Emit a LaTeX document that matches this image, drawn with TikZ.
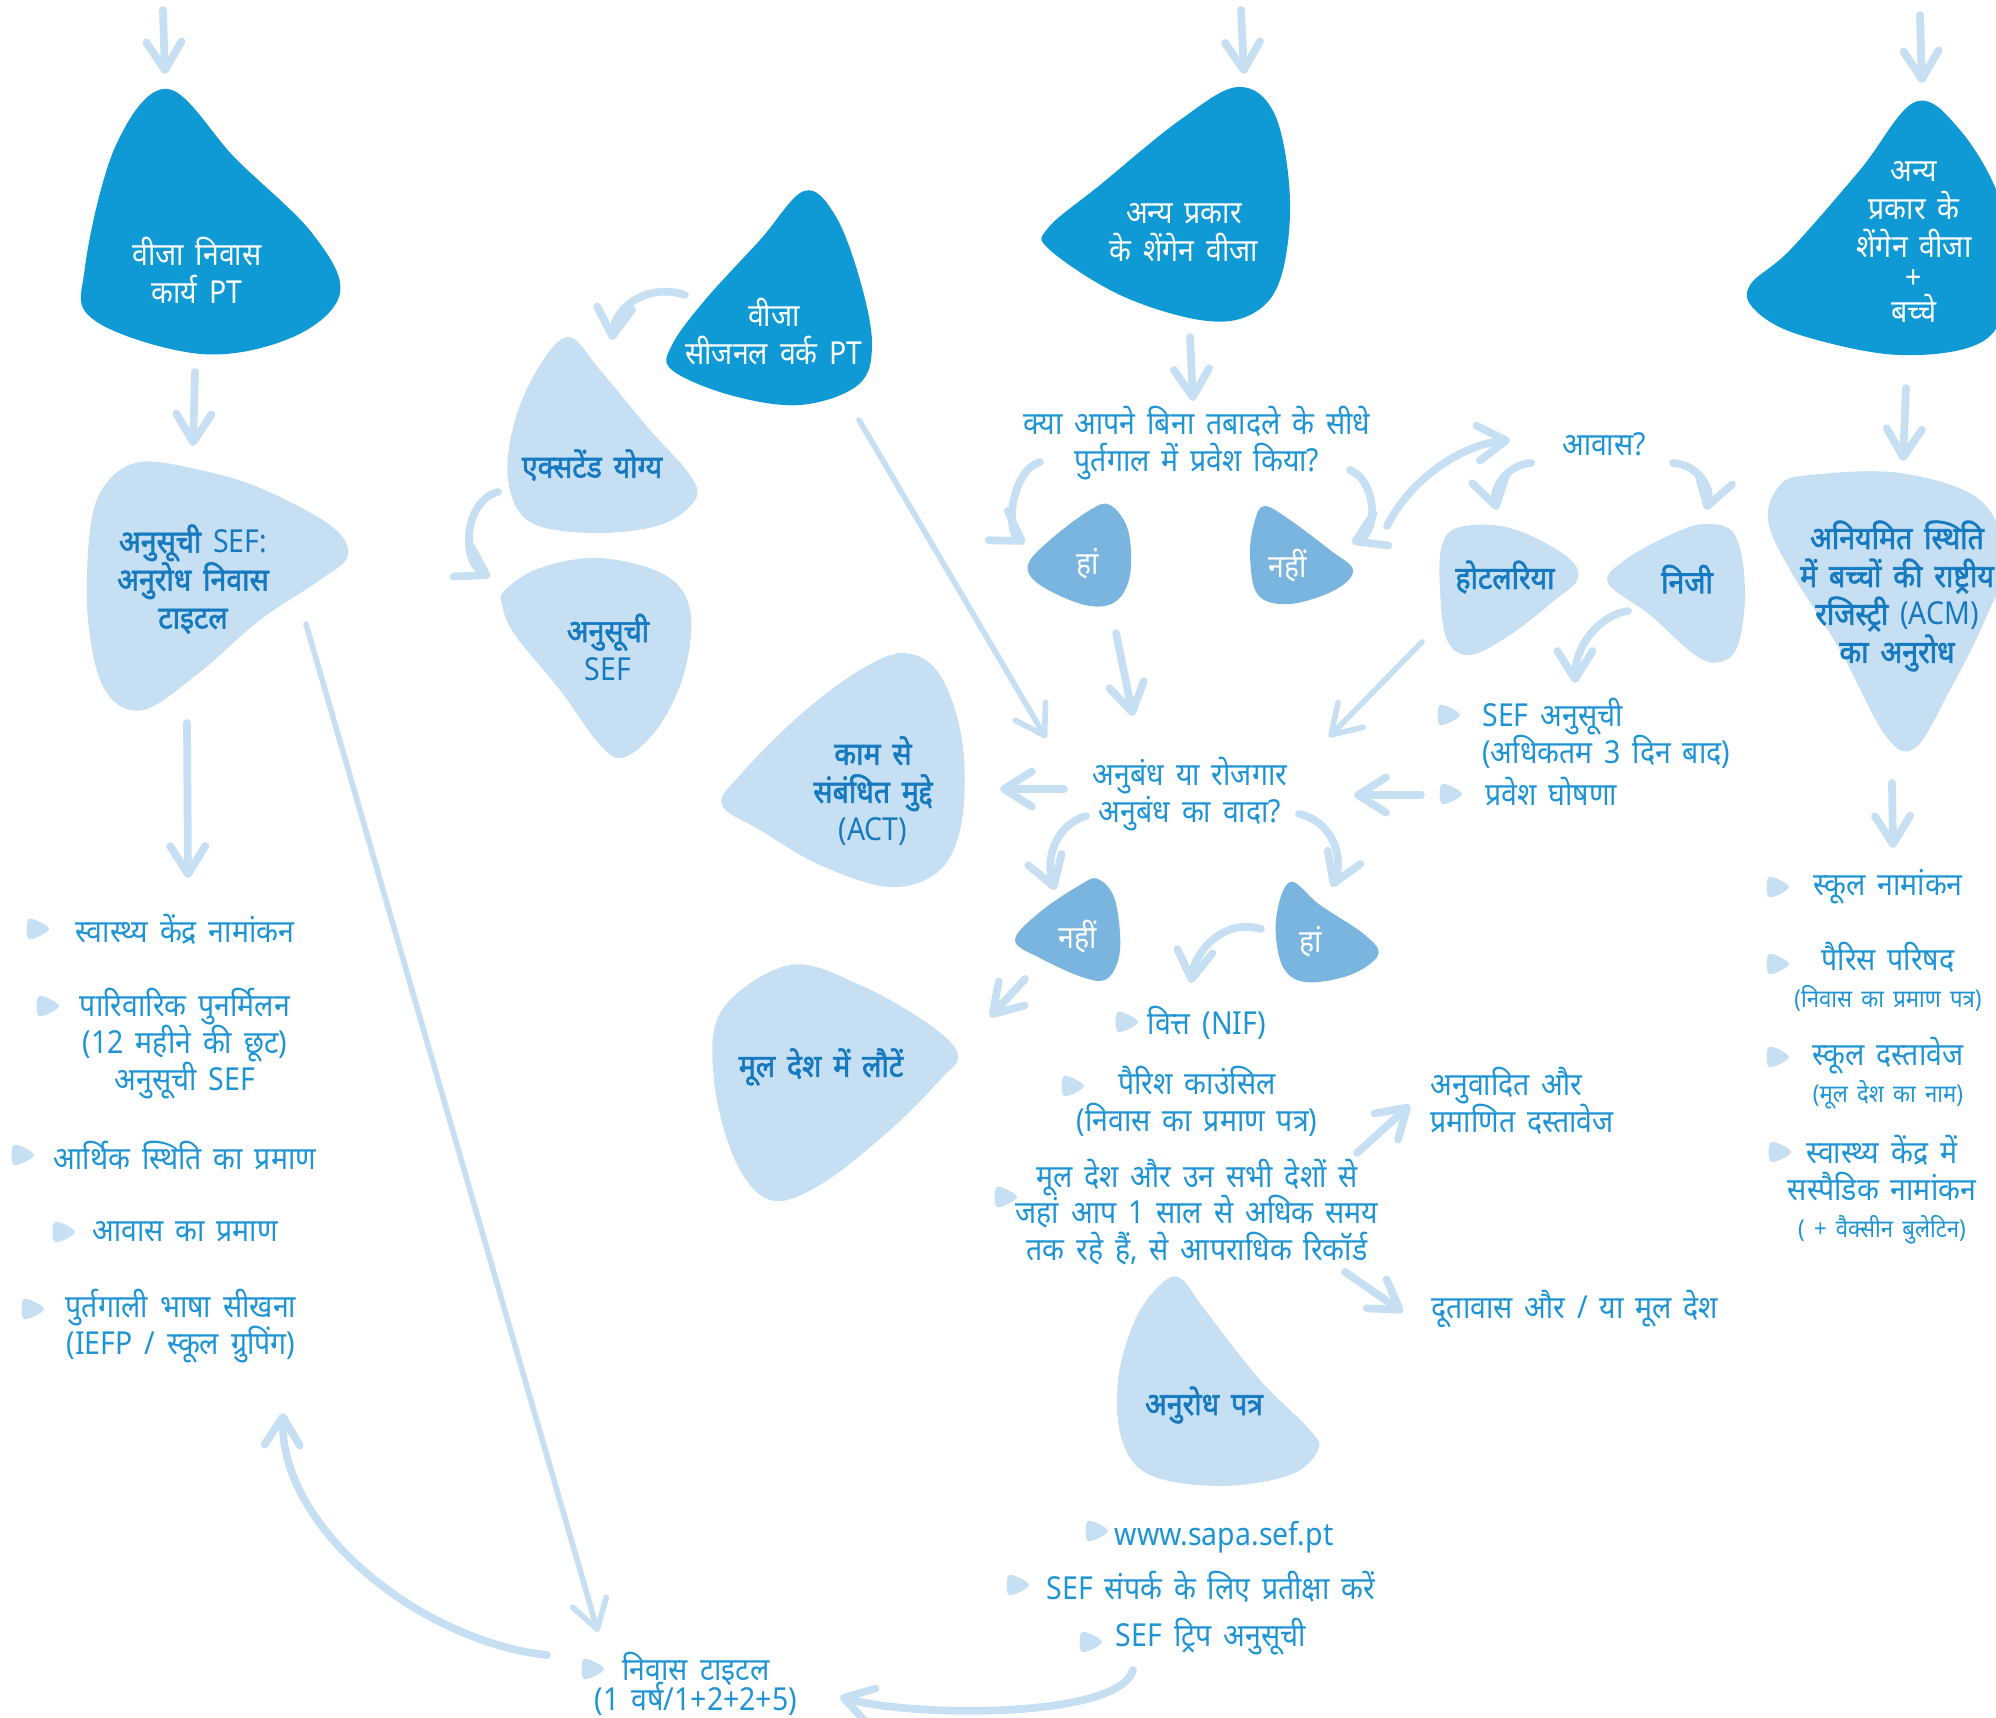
\documentclass[tikz,border=0pt]{standalone}
\usepackage{fontspec}
\setmainfont{Noto Sans}[Script=Devanagari, WordSpace=1.6, FakeStretch=0.9, BoldFont={Noto Sans}, BoldFeatures={FakeBold=2}]
\usetikzlibrary{arrows.meta,calc}
\definecolor{darkb}{RGB}{15,154,214}
\definecolor{midb}{RGB}{122,181,224}
\definecolor{lightb}{RGB}{199,223,242}
\definecolor{txtb}{RGB}{30,148,212}
\definecolor{boldb}{RGB}{22,122,192}
\newcommand\subtxt{\fontsize{7}{8.5}\selectfont}
\newcommand\tightlines{\lineskiplimit -20pt\relax}
\tikzset{
  tick/.pic={\fill[lightb] plot[smooth cycle, tension=0.6] coordinates {(-9,-10) (11,0) (-9,10)};},
}
\begin{document}
\begin{tikzpicture}[x=0.01cm, y=-0.01cm,
    darkblob/.style={fill=darkb},
    midblob/.style={fill=midb},
    lightblob/.style={fill=lightb},
    wlabel/.style={text=white, align=center, font=\fontsize{9}{10.8}\selectfont\tightlines},
    blabel/.style={text=boldb, align=center, font=\fontsize{9}{10.8}\selectfont\bfseries\tightlines},
    listtext/.style={text=txtb, align=center, font=\fontsize{9}{10.5}\selectfont\tightlines},
    arr/.style={draw=lightb, line width=2.2pt, line cap=round, -{Straight Barb[length=8pt,width=10pt,round]}},
    longarr/.style={arr, line width=1.6pt}]
  \useasboundingbox (0,0) rectangle (1996,1718);

  \fill[darkblob] plot[smooth cycle, tension=0.6] coordinates {(168,89) (236,159) (312,233) (340,293) (293,337) (201,354) (94,320) (85,267) (116,145)};
  \fill[lightblob] plot[smooth cycle, tension=0.6] coordinates {(140,462) (200,470) (260,488) (330,525) (348,555) (320,580) (260,620) (200,672) (143,710) (105,690) (88,620) (90,530) (105,485)};
  \fill[lightblob] plot[smooth cycle, tension=0.6] coordinates {(569,337) (600,370) (650,430) (690,475) (695,500) (660,525) (594,533) (530,522) (508,480) (515,420) (540,365)};
  \fill[lightblob] plot[smooth cycle, tension=0.6] coordinates {(505,590) (540,568) (600,558) (665,575) (690,610) (685,670) (660,725) (625,757) (600,745) (560,690) (515,635) (502,605)};
  \fill[darkblob] plot[smooth cycle, tension=0.6] coordinates {(804,191) (835,215) (860,280) (872,345) (858,385) (800,405) (730,395) (672,370) (672,345) (705,300) (760,240)};
  \fill[darkblob] plot[smooth cycle, tension=0.6] coordinates {(1238,87) (1275,115) (1290,200) (1280,280) (1250,315) (1200,320) (1120,295) (1050,250) (1048,228) (1100,185) (1180,120)};
  \fill[midblob] plot[smooth cycle, tension=0.6] coordinates {(1110,505) (1128,530) (1130,575) (1115,602) (1085,605) (1040,585) (1028,565) (1050,540) (1090,510)};
  \fill[midblob] plot[smooth cycle, tension=0.6] coordinates {(1265,506) (1290,520) (1330,550) (1353,570) (1335,590) (1290,604) (1258,595) (1250,555) (1255,520)};
  \fill[lightblob] plot[smooth cycle, tension=0.6] coordinates {(1460,527) (1510,528) (1565,555) (1578,578) (1555,600) (1510,635) (1470,655) (1447,640) (1440,590) (1442,545)};
  \fill[lightblob] plot[smooth cycle, tension=0.6] coordinates {(1705,524) (1735,535) (1745,590) (1738,645) (1720,662) (1695,655) (1650,615) (1608,583) (1625,560) (1670,535)};
  \fill[darkblob] plot[smooth cycle, tension=0.6] coordinates {(1915,102) (1960,130) (2000,200) (2010,280) (1985,340) (1900,355) (1800,335) (1755,310) (1750,285) (1790,250) (1860,170)};
  \fill[lightblob] plot[smooth cycle, tension=0.6] coordinates {(1810,475) (1900,473) (1980,500) (2005,560) (1985,620) (1950,690) (1915,748) (1885,735) (1840,650) (1790,570) (1768,520) (1780,485)};
  \fill[lightblob] plot[smooth cycle, tension=0.6] coordinates {(905,653) (940,675) (962,740) (962,820) (940,870) (890,887) (820,865) (760,830) (722,805) (740,775) (800,715) (860,670)};
  \fill[midblob] plot[smooth cycle, tension=0.6] coordinates {(1098,879) (1115,900) (1120,950) (1108,978) (1085,978) (1040,958) (1015,940) (1040,912) (1080,885)};
  \fill[midblob] plot[smooth cycle, tension=0.6] coordinates {(1290,882) (1320,905) (1365,935) (1378,955) (1350,975) (1305,982) (1282,965) (1276,920)};
  \fill[lightblob] plot[smooth cycle, tension=0.6] coordinates {(790,965) (860,985) (930,1025) (958,1055) (940,1080) (890,1130) (820,1185) (770,1200) (735,1160) (714,1080) (722,1010)};
  \fill[lightblob] plot[smooth cycle, tension=0.6] coordinates {(1180,1278) (1205,1310) (1260,1380) (1310,1430) (1318,1450) (1290,1475) (1220,1486) (1150,1475) (1122,1440) (1118,1380) (1135,1320) (1160,1285)};

  \node[wlabel] (v1) at (197,270) {वीजा निवास\\कार्य PT};
  \node[blabel] (sef1) at (193,579) {अनुसूची {\mdseries SEF:}\\अनुरोध निवास\\टाइटल};
  \node[blabel] (ext) at (592,465) {एक्सटेंड योग्य};
  \node[blabel] (sef2) at (608,647) {अनुसूची\\{\mdseries SEF}};
  \node[wlabel] (seas) at (774,332) {वीजा\\सीजनल वर्क PT};
  \node[wlabel] (schen) at (1184,233) {अन्य प्रकार\\के शेंगेन वीजा};
  \node[listtext] (q1) at (1197,443) {क्या आपने बिना तबादले के सीधे\\पुर्तगाल में प्रवेश किया?};
  \node[wlabel] (yes1) at (1088,564) {हां};
  \node[wlabel] (no1) at (1288,566) {नहीं};
  \node[listtext] (aavas) at (1604,444) {आवास?};
  \node[blabel] (hotel) at (1505,577) {होटलरिया};
  \node[blabel] (priv) at (1687,579) {निजी};
  \node[listtext, anchor=west, align=left] (sefs) at (1470,733) {SEF अनुसूची\\(अधिकतम 3 दिन बाद)};
  \node[listtext, anchor=west, align=left] (entry) at (1473,792) {प्रवेश घोषणा};
  \node[listtext] (q2) at (1190,794) {अनुबंध या रोजगार\\अनुबंध का वादा?};
  \node[blabel] (act) at (873,791) {काम से\\संबंधित मुद्दे\\{\mdseries (ACT)}};
  \node[wlabel] (no2) at (1078,937) {नहीं};
  \node[wlabel] (yes2) at (1311,942) {हां};
  \node[blabel] (ret) at (821,1067) {मूल देश में लौटें};
  \node[listtext] (nif) at (1207,1023) {वित्त (NIF)};
  \node[listtext] (parish) at (1197,1101) {पैरिश काउंसिल\\(निवास का प्रमाण पत्र)};
  \node[listtext] (crim) at (1197,1212) {मूल देश और उन सभी देशों से\\जहां आप 1 साल से अधिक समय\\तक रहे हैं, से आपराधिक रिकॉर्ड};
  \node[listtext, anchor=west, align=left] (trans) at (1418,1101) {अनुवादित और\\प्रमाणित दस्तावेज};
  \node[listtext] (emb) at (1575,1309) {दूतावास और / या मूल देश};
  \node[blabel] (req) at (1204,1405) {अनुरोध पत्र};
  \node[listtext] (web) at (1224,1537) {www.sapa.sef.pt};
  \node[listtext] (wait) at (1211,1587) {SEF संपर्क के लिए प्रतीक्षा करें};
  \node[listtext] (trip) at (1211,1637) {SEF ट्रिप अनुसूची};
  \node[listtext] (title) at (696,1684) {निवास टाइटल\\[-2pt](1 वर्ष/1+2+2+5)};
  \node[listtext] (h1) at (185,929) {स्वास्थ्य केंद्र नामांकन};
  \node[listtext] (fam) at (185,1044) {पारिवारिक पुनर्मिलन\\(12 महीने की छूट)\\अनुसूची SEF};
  \node[listtext] (fin) at (185,1156) {आर्थिक स्थिति का प्रमाण};
  \node[listtext] (acc) at (185,1232) {आवास का प्रमाण};
  \node[listtext] (lang) at (181,1326) {पुर्तगाली भाषा सीखना\\(IEFP / स्कूल ग्रुपिंग)};
  \node[wlabel] (kids) at (1914,242) {अन्य\\प्रकार के\\शेंगेन वीजा\\[-2pt]+\\[-1pt]बच्चे};
  \node[blabel] (acm) at (1897,596) {अनियमित स्थिति\\में बच्चों की राष्ट्रीय\\रजिस्ट्री {\mdseries (ACM)}\\का अनुरोध};
  \node[listtext] (school) at (1888,887) {स्कूल नामांकन};
  \node[listtext] (pari) at (1888,977) {पैरिस परिषद\\{\subtxt (निवास का प्रमाण पत्र)}};
  \node[listtext] (sdoc) at (1888,1073) {स्कूल दस्तावेज\\{\subtxt (मूल देश का नाम)}};
  \node[listtext] (hc) at (1882,1190) {स्वास्थ्य केंद्र में\\सस्पैडिक नामांकन\\{\subtxt ( + वैक्सीन बुलेटिन)}};

  \pic at (38,929) {tick};
  \pic at (48,1006) {tick};
  \pic at (23,1155) {tick};
  \pic at (64,1232) {tick};
  \pic at (33,1309) {tick};
  \pic at (593,1669) {tick};
  \pic at (1097,1531) {tick};
  \pic at (1018,1585) {tick};
  \pic at (1091,1642) {tick};
  \pic at (1127,1022) {tick};
  \pic at (1073,1086) {tick};
  \pic at (1006,1197) {tick};
  \pic at (1449,715) {tick};
  \pic at (1451,794) {tick};
  \pic at (1778,887) {tick};
  \pic at (1778,964) {tick};
  \pic at (1778,1057) {tick};
  \pic at (1780,1152) {tick};

  \coordinate (in1) at (163,10);
  \coordinate (in2) at (1241,10);
  \coordinate (in3) at (1920,15);
  \draw[arr] (in1) -- ($(v1)+(-32,-196)$);
  \draw[arr] (in2) -- ($(schen)+(60,-159)$);
  \draw[arr] (in3) -- ($(kids)+(8,-159)$);
  \draw[arr] ($(v1)+(-2,102)$) -- ($(sef1)+(0,-133)$);
  \draw[arr] ($(sef1)+(-6,144)$) -- ($(h1)+(3,-51)$);
  \draw[longarr] ($(sef1)+(113,45)$) -- ($(title)+(-98,-52)$);
  \draw[arr] ($(title)+(-149,-29)$) .. controls (420,1641) and (280,1528) .. ($(lang)+(102,87)$);
  \draw[arr] ($(trip)+(-78,33)$) .. controls (1120,1718) and (917,1718) .. ($(title)+(144,13)$);
  \draw[arr] ($(seas)+(-89,-37)$) .. controls (650,283) and (615,305) .. ($(ext)+(20,-125)$);
  \draw[arr] ($(ext)+(-94,27)$) .. controls (465,500) and (460,560) .. ($(sef2)+(-118,-70)$);
  \draw[longarr] ($(seas)+(85,88)$) -- ($(q2)+(-144,-56)$);
  \draw[arr] ($(schen)+(6,104)$) -- ($(q1)+(-4,-42)$);
  \draw[arr] ($(q1)+(-157,19)$) .. controls (1012,470) and (1005,530) .. ($(yes1)+(-63,-21)$);
  \draw[arr] ($(q1)+(153,27)$) .. controls (1375,480) and (1380,530) .. ($(no1)+(64,-23)$);
  \draw[arr] ($(yes1)+(28,69)$) -- ($(q2)+(-57,-78)$);
  \draw[arr] ($(no1)+(99,-40)$) .. controls (1410,480) and (1460,445) .. ($(aavas)+(-94,-4)$);
  \draw[arr] ($(aavas)+(-73,19)$) .. controls (1505,465) and (1492,490) .. ($(hotel)+(-8,-67)$);
  \draw[arr] ($(aavas)+(69,19)$) .. controls (1700,465) and (1712,490) .. ($(priv)+(19,-69)$);
  \draw[arr] ($(priv)+(-59,32)$) .. controls (1600,615) and (1575,645) .. ($(sefs.west)+(105,-50)$);
  \draw[longarr] ($(hotel)+(-83,65)$) -- ($(q2)+(139,-57)$);
  \draw[arr] ($(entry.west)+(-52,3)$) -- ($(q2)+(164,1)$);
  \draw[arr] ($(q2)+(-126,-5)$) -- ($(act)+(127,-2)$);
  \draw[arr] ($(q2)+(-104,22)$) .. controls (1055,825) and (1045,860) .. ($(no2)+(-23,-47)$);
  \draw[arr] ($(q2)+(109,20)$) .. controls (1330,820) and (1345,855) .. ($(yes2)+(21,-55)$);
  \draw[arr] ($(no2)+(-53,42)$) -- ($(ret)+(169,-50)$);
  \draw[arr] ($(yes2)+(-50,-13)$) .. controls (1225,918) and (1195,950) .. ($(nif)+(-16,-40)$);
  \draw[arr] ($(crim)+(160,-59)$) -- ($(trans.west)+(-8,4)$);
  \draw[arr] ($(crim)+(148,60)$) -- ($(emb)+(-172,3)$);
  \draw[arr] ($(kids)+(-8,146)$) -- ($(acm)+(6,-135)$);
  \draw[arr] ($(acm)+(-5,187)$) -- ($(school)+(5,-39)$);
\end{tikzpicture}
\end{document}
